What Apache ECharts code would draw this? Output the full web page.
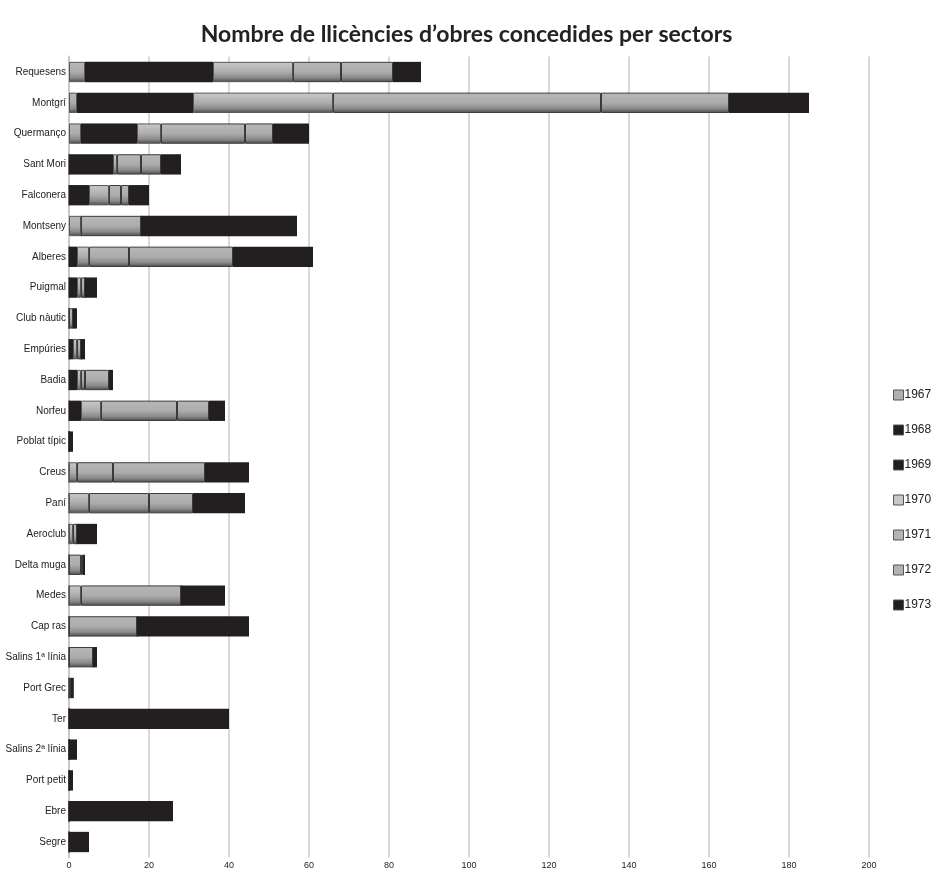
<!DOCTYPE html>
<html>
<head>
<meta charset="utf-8">
<script src="https://cdn.jsdelivr.net/npm/echarts@6/dist/echarts.min.js"></script>
<style>
html,body{margin:0;padding:0;background:#fff;}
#main{width:933px;height:871px;}
</style>
</head>
<body>
<div id="main"></div>
<script>
// sectors, top to bottom
var sectors = ['Requesens','Montgrí','Quermanço','Sant Mori','Falconera','Montseny','Alberes','Puigmal','Club nàutic','Empúries','Badia','Norfeu','Poblat típic','Creus','Paní','Aeroclub','Delta muga','Medes','Cap ras','Salins 1ª línia','Port Grec','Ter','Salins 2ª línia','Port petit','Ebre','Segre'];
var years = ['1967','1968','1969','1970','1971','1972','1973'];

// llicències per any (mateix ordre que sectors)
var y1967 = [4, 2, 3, 0, 0, 3, 0, 0, 0, 0, 0, 0, 0, 0, 0, 0, 0, 0, 0, 0, 0, 0, 0, 0, 0, 0];
var y1968 = [16, 15, 7, 6, 3, 0, 1, 1, 0, 1, 1, 2, 0, 0, 0, 0, 0, 0, 0, 0, 0, 0, 0, 0, 0, 0];
var y1969 = [16, 14, 7, 5, 2, 0, 1, 1, 0, 0, 1, 1, 0, 0, 0, 0, 0, 0, 0, 0, 0, 0, 0, 0, 0, 0];
var y1970 = [20, 35, 6, 1, 5, 0, 3, 1, 0, 1, 1, 5, 0, 2, 5, 1, 0, 3, 0, 0, 0, 0, 0, 0, 0, 0];
var y1971 = [12, 67, 21, 6, 3, 15, 10, 1, 1, 1, 1, 19, 0, 9, 15, 1, 3, 25, 17, 6, 0.5, 0, 0, 0, 0, 0];
var y1972 = [13, 32, 7, 5, 2, 0, 26, 0, 0, 0, 6, 8, 0, 23, 11, 0, 0.5, 0, 0, 0, 0, 0, 0, 0, 0, 0];
var y1973 = [7, 20, 9, 5, 5, 39, 20, 3, 1, 1, 1, 4, 1, 11, 13, 5, 0.5, 11, 28, 1, 0.7, 40, 2, 1, 26, 5];

var yearData = [y1967, y1968, y1969, y1970, y1971, y1972, y1973];

var black = '#231f20';
function grayGrad(top){
	return new echarts.graphic.LinearGradient(0, 0, 0, 1, [
		{offset: 0, color: top},
		{offset: 0.5, color: '#acacac'},
		{offset: 0.78, color: '#8a8a8a'},
		{offset: 1, color: '#4a4a4a'}
	]);
}
var styles = [
	{color: grayGrad('#b8b8b8'), borderColor: '#555', bw: 1},
	{color: black, borderColor: black, bw: 0},
	{color: black, borderColor: black, bw: 0},
	{color: grayGrad('#cacaca'), borderColor: '#555', bw: 1},
	{color: grayGrad('#b8b8b8'), borderColor: '#3a3a3a', bw: 1},
	{color: grayGrad('#b8b8b8'), borderColor: '#3a3a3a', bw: 1},
	{color: black, borderColor: black, bw: 0}
];
var legendColors = ['#b0b0b0', black, black, '#c8c8c8', '#b4b4b4', '#b4b4b4', black];

var series = [];
for (var i = 0; i < years.length; i++) {
	series.push({
		name: years[i],
		type: 'bar',
		stack: 'total',
		barWidth: '66%',
		color: legendColors[i],
		itemStyle: {
			color: styles[i].color,
			borderColor: styles[i].borderColor,
			borderWidth: styles[i].bw
		},
		data: yearData[i]
	});
}

var myChart = echarts.init(document.getElementById('main'));
var option = {
	animation: false,
	backgroundColor: '#fff',
	title: {
		text: 'Nombre de llicències d’obres concedides per sectors',
		left: 'center',
		top: 18,
		textStyle: {fontFamily: 'Lato', fontWeight: 'bold', fontSize: 23, color: '#222'}
	},
	legend: {
		orient: 'vertical',
		left: 888,
		top: 384,
		itemWidth: 10,
		itemHeight: 10,
		itemGap: 23,
		icon: 'rect',
		data: years.map(function(y, i){
			return {name: y, itemStyle: {color: legendColors[i], borderColor: '#555', borderWidth: 1}};
		}),
		textStyle: {fontFamily: 'Liberation Sans', fontSize: 12, color: '#222', padding: [0, 0, 0, -4]}
	},
	grid: {left: 69, right: 64, top: 56.6, bottom: 13.6, containLabel: false},
	xAxis: {
		type: 'value',
		min: 0,
		max: 200,
		interval: 20,
		axisLine: {show: false},
		axisTick: {show: false},
		axisLabel: {fontFamily: 'Liberation Sans', fontSize: 9, color: '#222', margin: 4},
		splitLine: {lineStyle: {color: '#d9d9d9', width: 2}}
	},
	yAxis: {
		type: 'category',
		inverse: true,
		data: sectors,
		axisLine: {lineStyle: {color: '#c8c8c8', width: 2}},
		axisTick: {show: false},
		axisLabel: {fontFamily: 'Liberation Sans', fontSize: 10, color: '#222', margin: 3}
	},
	series: series
};
myChart.setOption(option);
</script>
</body>
</html>
